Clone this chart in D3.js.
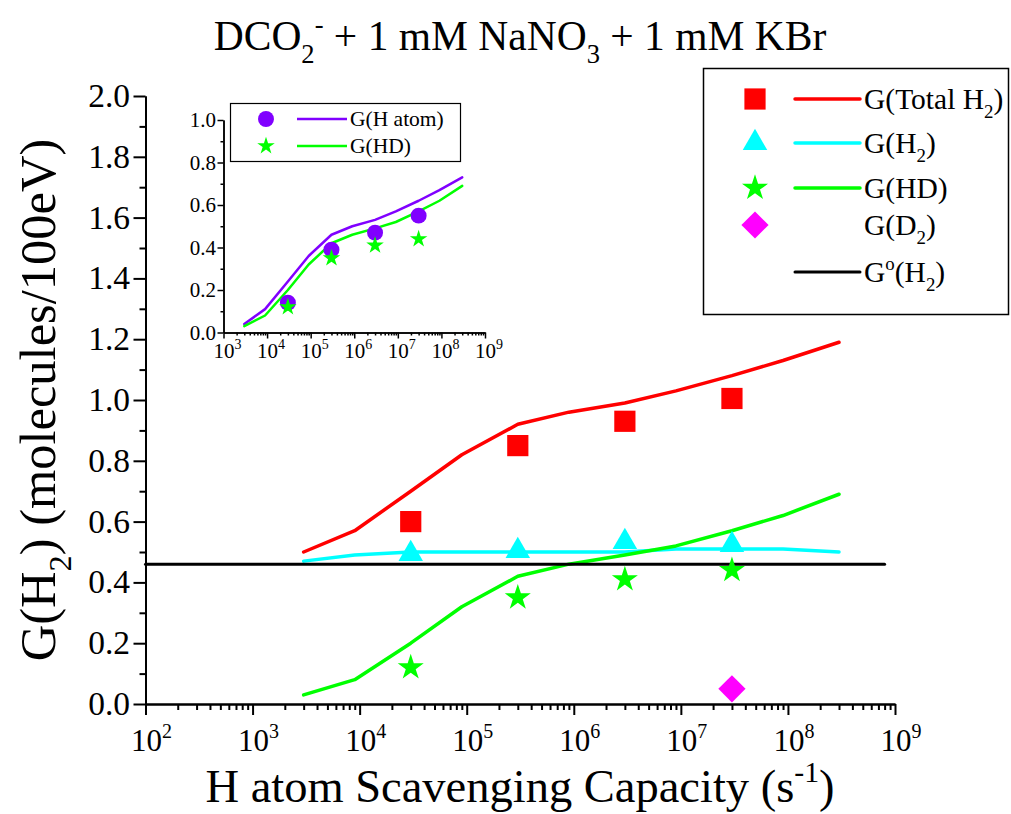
<!DOCTYPE html>
<html>
<head>
<meta charset="utf-8">
<script src="https://cdn.jsdelivr.net/npm/d3@7"></script>
<style>
  html, body { margin: 0; padding: 0; background: #fff; }
  svg { display: block; font-family: "Liberation Serif", "Times New Roman", serif; }
</style>
</head>
<body>
<svg id="chart" width="1011" height="814"></svg>
<script>
// Simulated yields vs. H atom scavenging capacity
const simCapacity = [3e3, 9e3, 3e4, 9e4, 3e5, 9e5, 3e6, 9e6, 3e7, 9e7, 3e8];
const simTotalH2 = [0.50, 0.57, 0.70, 0.82, 0.92, 0.96, 0.99, 1.03, 1.08, 1.13, 1.19];
const simH2      = [0.47, 0.49, 0.50, 0.50, 0.50, 0.50, 0.50, 0.51, 0.51, 0.51, 0.50];
const simHD      = [0.03, 0.08, 0.20, 0.32, 0.42, 0.46, 0.49, 0.52, 0.57, 0.62, 0.69];
const simHatom   = [0.04, 0.11, 0.24, 0.36, 0.46, 0.50, 0.53, 0.57, 0.62, 0.67, 0.73];

// Measured yields
const expCapacity = [3e4, 3e5, 3e6, 3e7];
const expTotalH2  = [0.60, 0.85, 0.93, 1.005];
const expH2       = [0.50, 0.51, 0.54, 0.53];
const expHD       = [0.12, 0.35, 0.41, 0.44];
const expHatom    = [0.14, 0.39, 0.47, 0.55];
const expD2Capacity = [3e7];
const expD2       = [0.05];

// Primary yield of H2 (horizontal reference)
const g0Capacity = [1e2, 8e8];
const g0H2 = [0.46, 0.46];

// Axis ticks
const mainDecades = [1e2, 1e3, 1e4, 1e5, 1e6, 1e7, 1e8, 1e9];
const mainYTicks = [0, 0.2, 0.4, 0.6, 0.8, 1.0, 1.2, 1.4, 1.6, 1.8, 2.0];
const insetDecades = [1e3, 1e4, 1e5, 1e6, 1e7, 1e8, 1e9];
const insetYTicks = [0, 0.2, 0.4, 0.6, 0.8, 1.0];

const colors = { total: "#ff0000", h2: "#00ffff", hd: "#00ff00", d2: "#ff00ff", hatom: "#8000ff", g0: "#000000" };

const svg = d3.select("#chart");

// text with sub/superscript runs
function rich(sel, parts, size) {
  let shift = 0;
  parts.forEach(p => {
    const target = p.k === "sub" ? 0.32 * size : p.k === "sup" ? -0.42 * size : 0;
    sel.append("tspan")
      .attr("dy", target - shift)
      .attr("font-size", p.k ? size * 0.64 : size)
      .text(p.t);
    shift = target;
  });
  return sel;
}

function logMinor(decades) {
  const out = [];
  for (let i = 0; i < decades.length - 1; i++) {
    for (let m = 2; m <= 9; m++) out.push(decades[i] * m);
  }
  return out;
}

// ---------- main plot ----------
const x = d3.scaleLog().domain([1e2, 1e9]).range([145.5, 895]);
const y = d3.scaleLinear().domain([0, 2]).range([704, 96]);

const main = svg.append("g");

function styleAxis(g, w) {
  g.select(".domain").attr("stroke", "#000").attr("stroke-width", w);
  g.selectAll(".tick line").attr("stroke", "#000").attr("stroke-width", w);
}

// x axis: minor then major
main.append("g").attr("transform", `translate(0,${y(0)})`)
  .call(d3.axisBottom(x).tickValues(logMinor(mainDecades)).tickSize(6).tickSizeOuter(0).tickFormat(""))
  .call(g => styleAxis(g, 2));
main.append("g").attr("transform", `translate(0,${y(0)})`)
  .call(d3.axisBottom(x).tickValues(mainDecades).tickSize(11).tickSizeOuter(0).tickFormat(""))
  .call(g => styleAxis(g, 2));

// y axis: minor then major
const yMinor = d3.range(0.1, 2.0, 0.2);
main.append("g").attr("transform", `translate(${x(1e2)},0)`)
  .call(d3.axisLeft(y).tickValues(yMinor).tickSize(6).tickSizeOuter(0).tickFormat(""))
  .call(g => styleAxis(g, 2));
main.append("g").attr("transform", `translate(${x(1e2)},0)`)
  .call(d3.axisLeft(y).tickValues(mainYTicks).tickSize(12).tickSizeOuter(0).tickFormat(""))
  .call(g => styleAxis(g, 2));

// tick labels
mainDecades.forEach(d => {
  const t = main.append("text").attr("x", x(d) + 6).attr("y", 751)
    .attr("text-anchor", "middle").attr("font-size", 31).attr("fill", "#000");
  t.append("tspan").text("10");
  t.append("tspan").attr("dy", -13).attr("font-size", 20).text(Math.round(Math.log10(d)));
});
mainYTicks.forEach(v => {
  main.append("text").attr("x", 130).attr("y", y(v) + 11)
    .attr("text-anchor", "end").attr("font-size", 33.5).attr("fill", "#000")
    .text(d3.format(".1f")(v));
});

// axis titles
rich(main.append("text").attr("x", 520).attr("y", 802).attr("text-anchor", "middle").attr("font-size", 46.5),
  [{ t: "H atom Scavenging Capacity (s" }, { t: "-1", k: "sup" }, { t: ")" }], 46.5);
rich(main.append("text").attr("transform", "translate(55,400) rotate(-90)").attr("text-anchor", "middle").attr("font-size", 50.5),
  [{ t: "G(H" }, { t: "2", k: "sub" }, { t: ") (molecules/100eV)" }], 50.5);
rich(svg.append("text").attr("x", 520).attr("y", 50).attr("text-anchor", "middle").attr("font-size", 41.5),
  [{ t: "DCO" }, { t: "2", k: "sub" }, { t: "-", k: "sup" }, { t: " + 1 mM NaNO" }, { t: "3", k: "sub" }, { t: " + 1 mM KBr" }], 41.5);

// lines
const lineGen = (xs, sx, sy) => d3.line().x((d, i) => sx(xs[i])).y(d => sy(d));
function drawLine(g, xs, ys, sx, sy, color, w) {
  g.append("path").datum(ys)
    .attr("d", lineGen(xs, sx, sy))
    .attr("fill", "none").attr("stroke", color).attr("stroke-width", w)
    .attr("stroke-linejoin", "round").attr("stroke-linecap", "round");
}
drawLine(main, simCapacity, simTotalH2, x, y, colors.total, 3.5);
drawLine(main, simCapacity, simH2, x, y, colors.h2, 3.5);
drawLine(main, simCapacity, simHD, x, y, colors.hd, 3.5);
drawLine(main, g0Capacity, g0H2, x, y, colors.g0, 3);

// markers
const sym = {
  square: d3.symbol().type(d3.symbolSquare).size(450),
  triangle: d3.symbol().type(d3.symbolTriangle).size(260),
  star: d3.symbol().type(d3.symbolStar).size(210),
  diamond: d3.symbol().type(d3.symbolSquare).size(370),
  starSmall: d3.symbol().type(d3.symbolStar).size(95),
  circle: d3.symbol().type(d3.symbolCircle).size(200)
};
function drawMarkers(g, xs, ys, sx, sy, path, color, rot, dyOff) {
  g.selectAll(null).data(ys).enter().append("path")
    .attr("d", path)
    .attr("transform", (d, i) => `translate(${sx(xs[i])},${sy(d) + (dyOff || 0)})` + (rot ? ` rotate(${rot})` : ""))
    .attr("fill", color);
}
drawMarkers(main, expCapacity, expTotalH2, x, y, sym.square(), colors.total);
drawMarkers(main, expCapacity, expH2, x, y, sym.triangle(), colors.h2, 0, 2);
drawMarkers(main, expCapacity, expHD, x, y, sym.star(), colors.hd);
drawMarkers(main, expD2Capacity, expD2, x, y, sym.diamond(), colors.d2, 45);

// legend
const leg = svg.append("g");
leg.append("rect").attr("x", 703.5).attr("y", 68.5).attr("width", 305).attr("height", 246)
  .attr("fill", "#fff").attr("stroke", "#000").attr("stroke-width", 1.5);
const legItems = [
  { y: 99, sym: sym.square(), color: colors.total, line: colors.total, parts: [{ t: "G(Total H" }, { t: "2", k: "sub" }, { t: ")" }] },
  { y: 143, sym: sym.triangle(), color: colors.h2, line: colors.h2, parts: [{ t: "G(H" }, { t: "2", k: "sub" }, { t: ")" }] },
  { y: 188, sym: sym.star(), color: colors.hd, line: colors.hd, parts: [{ t: "G(HD)" }] },
  { y: 225, sym: sym.diamond(), color: colors.d2, line: null, rot: 45, parts: [{ t: "G(D" }, { t: "2", k: "sub" }, { t: ")" }] },
  { y: 272, sym: null, color: null, line: colors.g0, parts: [{ t: "G" }, { t: "o", k: "sup" }, { t: "(H" }, { t: "2", k: "sub" }, { t: ")" }] }
];
legItems.forEach(it => {
  if (it.sym) leg.append("path").attr("d", it.sym).attr("fill", it.color)
    .attr("transform", `translate(755,${it.y})` + (it.rot ? ` rotate(${it.rot})` : ""));
  if (it.line) leg.append("line").attr("x1", 795).attr("x2", 860).attr("y1", it.y).attr("y2", it.y)
    .attr("stroke", it.line).attr("stroke-width", it.line === colors.g0 ? 3 : 3.5).attr("stroke-linecap", "round");
  rich(leg.append("text").attr("x", 864).attr("y", it.y + 10).attr("font-size", 29.5), it.parts, 29.5);
});

// ---------- inset ----------
const xi = d3.scaleLog().domain([1e3, 1e9]).range([223.5, 485]);
const yi = d3.scaleLinear().domain([0, 1]).range([332.5, 120]);
const inset = svg.append("g");

inset.append("g").attr("transform", `translate(0,${yi(0)})`)
  .call(d3.axisBottom(xi).tickValues(logMinor(insetDecades)).tickSize(3).tickSizeOuter(0).tickFormat(""))
  .call(g => styleAxis(g, 1.5));
inset.append("g").attr("transform", `translate(0,${yi(0)})`)
  .call(d3.axisBottom(xi).tickValues(insetDecades).tickSize(6).tickSizeOuter(0).tickFormat(""))
  .call(g => styleAxis(g, 1.5));
inset.append("g").attr("transform", `translate(${xi(1e3)},0)`)
  .call(d3.axisLeft(yi).tickValues(d3.range(0.1, 1.0, 0.2)).tickSize(3).tickSizeOuter(0).tickFormat(""))
  .call(g => styleAxis(g, 1.5));
inset.append("g").attr("transform", `translate(${xi(1e3)},0)`)
  .call(d3.axisLeft(yi).tickValues(insetYTicks).tickSize(6).tickSizeOuter(0).tickFormat(""))
  .call(g => styleAxis(g, 1.5));

insetDecades.forEach(d => {
  const t = inset.append("text").attr("x", xi(d) + 4).attr("y", 358)
    .attr("text-anchor", "middle").attr("font-size", 21).attr("fill", "#000");
  t.append("tspan").text("10");
  t.append("tspan").attr("dy", -9).attr("font-size", 14).text(Math.round(Math.log10(d)));
});
insetYTicks.forEach(v => {
  inset.append("text").attr("x", 216).attr("y", yi(v) + 7)
    .attr("text-anchor", "end").attr("font-size", 21).attr("fill", "#000")
    .text(d3.format(".1f")(v));
});

drawLine(inset, simCapacity, simHatom, xi, yi, colors.hatom, 2.5);
drawLine(inset, simCapacity, simHD, xi, yi, colors.hd, 2.5);
drawMarkers(inset, expCapacity, expHatom, xi, yi, sym.circle(), colors.hatom);
drawMarkers(inset, expCapacity, expHD, xi, yi, sym.starSmall(), colors.hd);

// inset legend
const ileg = inset.append("g");
ileg.append("rect").attr("x", 230.5).attr("y", 103.5).attr("width", 230).attr("height", 58)
  .attr("fill", "#fff").attr("stroke", "#000").attr("stroke-width", 1.2);
[
  { y: 119, sym: sym.circle(), color: colors.hatom, label: "G(H atom)" },
  { y: 146, sym: sym.starSmall(), color: colors.hd, label: "G(HD)" }
].forEach(it => {
  ileg.append("path").attr("d", it.sym).attr("fill", it.color).attr("transform", `translate(266,${it.y})`);
  ileg.append("line").attr("x1", 297).attr("x2", 347).attr("y1", it.y).attr("y2", it.y)
    .attr("stroke", it.color).attr("stroke-width", 2.5);
  ileg.append("text").attr("x", 350).attr("y", it.y + 7).attr("font-size", 21.5).text(it.label);
});
</script>
</body>
</html>
